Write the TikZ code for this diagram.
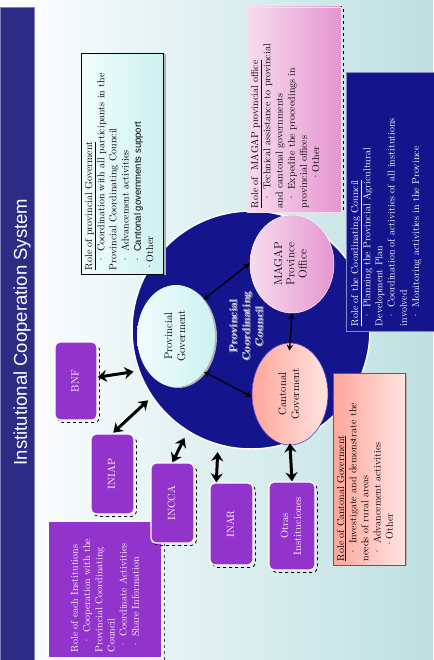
\documentclass[tikz,border=0pt]{standalone}
\usepackage{fontspec}
\usepackage{graphicx}
\newfontfamily\arialf{Liberation Sans}
\usetikzlibrary{shapes.geometric,arrows.meta,calc,shadows}

\definecolor{bgteal}{HTML}{BEE0E2}
\definecolor{titleblue}{HTML}{2C2C86}
\definecolor{navy}{HTML}{14148C}
\definecolor{purp}{HTML}{9233CC}
\definecolor{pinkL}{HTML}{F7DCEE}
\definecolor{pinkR}{HTML}{E596CF}
\definecolor{salL}{HTML}{FFA69A}
\definecolor{salR}{HTML}{FFE4E2}
\definecolor{cyanL}{HTML}{F2FDFD}
\definecolor{cyanR}{HTML}{CCF1F1}

% rotated text block: #1 length along page vertical, #2 along page horizontal, #3 inner alignment
\newcommand\rbox[4]{\rotatebox{90}{\begin{minipage}[c][#2][#3]{#1}\raggedright #4\end{minipage}}}
\newcommand\rlab[1]{\rotatebox{90}{\begin{tabular}{@{}c@{}}#1\end{tabular}}}

\begin{document}
\begin{tikzpicture}[x=1pt,y=-1pt,
  rolebox/.style={rectangle, inner sep=4pt, line width=0.6pt, font=\fontsize{10}{12.2}\selectfont},
  inst/.style={rectangle, rounded corners=5pt, inner sep=0pt, fill=purp, draw=white, line width=1.3pt,
     text=white, font=\fontsize{10.5}{13}\selectfont,
     general shadow={draw=black, dashed, line width=0.8pt, shadow xshift=2.5pt, shadow yshift=-2.5pt}},
  oval/.style={ellipse, inner sep=0pt, font=\fontsize{11}{13}\selectfont},
  bigarrow/.style={line width=3pt, {Stealth[length=9pt,width=12pt,inset=3pt]}-{Stealth[length=9pt,width=12pt,inset=3pt]}},
  smallarrow/.style={line width=1.3pt, {Stealth[length=6pt,width=6.5pt]}-{Stealth[length=6pt,width=6.5pt]}}
]
\useasboundingbox (0,0) rectangle (433,660);
\shade[left color=white, right color=bgteal] (0,0) rectangle (433,660);

% title bar
\node[rectangle, fill=titleblue, draw=titleblue!60!white, line width=0.6pt, inner sep=0pt,
      minimum width=34pt, minimum height=654pt] (titlebar) at (17,334) {};
\node[text=white, inner sep=0pt, font=\arialf\fontsize{18.5}{22}\selectfont] (title) at (22,332)
  {\rotatebox{90}{Institutional Cooperation System}};

% council circle
\node[circle, fill=navy, draw=white, line width=1.5pt, minimum size=238pt, inner sep=0pt] (circ) at (251,330) {};

% role of provincial government
\node[rolebox, draw=black, left color=cyanL, right color=cyanR,
      general shadow={fill=gray!60, shadow xshift=2.5pt, shadow yshift=-1pt}] (provrole) at (122,163.5)
 {\rbox{213pt}{74pt}{t}{\underline{Role of provincial Goverment}\\
 \hspace*{7pt}· Coordination with all participants in the\\
 Provincial Coordinating Council\\
 \hspace*{7pt}· Advancement activities\\
 \hspace*{7pt}· {\arialf\fontsize{9.5}{12.2}\selectfont Cantonal governments support}\\
 ·Other}};

% role of MAGAP
\node[rolebox, draw=pinkL, left color=pinkL, right color=pinkR,
      general shadow={draw=black, dashed, line width=1pt, shadow xshift=2pt, shadow yshift=0pt}] (magaprole) at (294,109.5)
 {\rbox{197pt}{86pt}{t}{\underline{Role of\ \ MAGAP provincial office}\\
 \hspace*{7pt}· Technical assistance to provincial\\
 and cantonal governments\\
 \hspace*{7pt}· Expedite the proceedings in\\
 provincial offices\\
 \hspace*{28pt}·Other}};

% role of coordinating council
\node[rolebox, inner sep=5pt, fill=navy, draw=navy!50!white, text=white] (councilrole) at (391.5,201.5)
 {\rbox{249pt}{81pt}{t}{\underline{Role of the Coordinating Council}\\
 \hspace*{7pt}· Planning the Provincial Agricultural\\
 Development Plan\\
 \hspace*{7pt}· Coordination of activities of all institutions\\
 involved\\
 \hspace*{7pt}· Monitoring activities in the Province}};

% role of cantonal government
\node[rolebox, draw=blue!35!gray, left color=salL, right color=salR,
      general shadow={fill=gray!60, shadow xshift=1.5pt, shadow yshift=0pt}] (cantrole) at (369,469)
 {\rbox{184pt}{64pt}{t}{\underline{Role of Cantonal Goverment}\\
 \hspace*{6pt}· Investigate and demonstrate the\\
 needs of rural areas\\
 \hspace*{6pt}· Advancement activities\\
 \hspace*{14pt}·Other}};

% role of each institution
\node[rolebox, inner sep=6pt, fill=purp, draw=white, line width=1.2pt, text=white,
      general shadow={draw=black!70, dashed, line width=0.8pt, shadow xshift=2pt, shadow yshift=-2pt}] (instrole) at (105,589.5)
 {\rbox{125pt}{102pt}{c}{Role of each Institutions\\
 \hspace*{8pt}· Cooperation with the\\
 Provincial Coordinating\\
 Council\\
 \hspace*{4pt}· Coordinate Activities\\
 \hspace*{4pt}· Share Information}};

% ellipses inside the circle
\node[oval, fill=gray!60, minimum width=78pt, minimum height=102pt] (provshadow) at (178,337) {};
\node[oval, left color=cyanL, right color=cyanR, minimum width=78pt, minimum height=102pt] (prov) at (176,336)
 {\rlab{Provincial\\Goverment}};
\node[oval, left color=pinkL, right color=pinkR, draw=white!85!pink, line width=0.5pt,
      minimum width=84pt, minimum height=98pt, font=\fontsize{11.5}{12.2}\selectfont] (magap) at (292,264)
 {\rlab{MAGAP\\Province\\Office}};
\node[oval, left color=salL, right color=salR, draw=blue!50!gray, line width=0.6pt,
      minimum width=76pt, minimum height=102pt] (canton) at (290,394)
 {\rlab{Cantonal\\Goverment}};

% centre label
\node[text=gray!70, font=\bfseries\fontsize{10.5}{13}\selectfont] (councilshadow) at (248,327)
 {\rlab{Provincial\\Coordinating\\Council}};
\node[text=white!88!blue, font=\bfseries\fontsize{10.5}{13}\selectfont] (council) at (247,326)
 {\rlab{Provincial\\Coordinating\\Council}};

% institutions
\node[inst, minimum width=42pt, minimum height=78pt] (bnf) at (76,381) {\rlab{BNF}};
\node[inst, minimum width=43pt, minimum height=80pt] (iniap) at (112.5,474) {\rlab{INIAP}};
\node[inst, minimum width=43pt, minimum height=80pt] (incca) at (172.5,503) {\rlab{INCCA}};
\node[inst, minimum width=43pt, minimum height=82pt] (inar) at (231.5,524) {\rlab{INAR}};
\node[inst, minimum width=46pt, minimum height=88pt] (otras) at (292,526) {\rlab{Otras\\Instituciones}};

% arrows between the three bodies
\draw[smallarrow] (prov.53) -- (magap.179);
\draw[smallarrow, shorten >=-8pt] (magap.south) -- (canton.north);
\draw[smallarrow] (prov.-52) -- (canton.184);

% arrows from the institutions
\draw[bigarrow, shorten >=5pt] (bnf.10) -- (circ.200);
\draw[bigarrow, shorten >=5pt, shorten <=1pt] (iniap.north) -- (circ.214);
\draw[bigarrow, shorten >=7pt] (incca.north) -- (circ.238);
\draw[bigarrow, shorten >=7pt] (inar.110) -- (circ.254);
\draw[bigarrow, shorten >=-2pt] (otras.north) -- (canton.south);
\end{tikzpicture}
\end{document}
